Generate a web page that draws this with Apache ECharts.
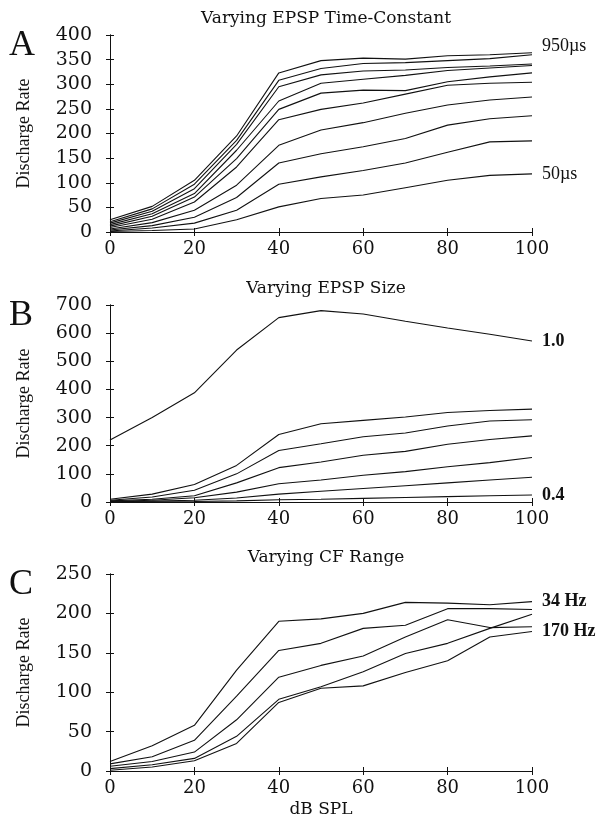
<!DOCTYPE html>
<html>
<head>
<meta charset="utf-8">
<title>Discharge Rate vs dB SPL</title>
<script src="https://cdn.jsdelivr.net/npm/echarts@6/dist/echarts.min.js"></script>
<style>
  html, body { margin: 0; padding: 0; background: #fff; }
  #chart { width: 607px; height: 820px; }
</style>
</head>
<body>
<div id="chart"></div>
<script>
// sound level (dB SPL), shared by every panel
var dB = [0, 10, 20, 30, 40, 50, 60, 70, 80, 90, 100];

// A: varying EPSP time-constant, 950us (top) .. 50us (bottom)
var tauLines = [
  [25, 52, 105, 195, 323, 348, 353, 351, 358, 360, 364],
  [21, 47, 97, 186, 308, 332, 342, 344, 348, 352, 360],
  [18, 42, 88, 178, 295, 319, 327, 329, 334, 337, 341],
  [15, 37, 78, 166, 266, 302, 310, 318, 328, 333, 338],
  [12, 32, 71, 149, 249, 282, 288, 287, 305, 315, 323],
  [9, 26, 61, 132, 228, 249, 262, 280, 298, 302, 304],
  [6, 19, 44, 95, 176, 207, 222, 241, 258, 268, 274],
  [4, 13, 30, 70, 140, 159, 173, 190, 217, 230, 236],
  [2, 8, 18, 44, 97, 112, 125, 140, 162, 183, 185],
  [1, 3, 6, 25, 51, 68, 75, 90, 105, 115, 118]
];
var tauEnds = ['950\u00b5s', '50\u00b5s'];

// B: varying EPSP size, 1.0 (top) .. 0.4 (bottom)
var sizeLines = [
  [220, 300, 388, 540, 655, 680, 668, 642, 618, 596, 572],
  [10, 28, 62, 130, 240, 278, 290, 302, 318, 325, 330],
  [6, 18, 42, 100, 183, 207, 232, 245, 270, 288, 292],
  [4, 10, 22, 68, 122, 142, 166, 180, 205, 222, 235],
  [2, 6, 15, 35, 65, 78, 95, 108, 125, 140, 158],
  [1, 3, 6, 14, 28, 38, 48, 58, 68, 78, 88],
  [0, 1, 2, 4, 8, 10, 13, 16, 19, 22, 25]
];
var sizeEnds = ['1.0', '0.4'];

// C: varying CF range, 34 Hz .. 170 Hz
var cfLines = [
  [12, 32, 58, 128, 190, 193, 200, 214, 213, 211, 215],
  [9, 18, 39, 95, 153, 162, 181, 185, 206, 206, 205],
  [6, 12, 24, 65, 119, 134, 146, 170, 192, 182, 183],
  [3, 8, 16, 44, 91, 107, 126, 149, 162, 181, 199],
  [1, 5, 13, 35, 87, 105, 108, 125, 140, 170, 177]
];
var cfEnds = ['34 Hz', '170 Hz'];

var titles = ['Varying EPSP Time-Constant', 'Varying EPSP Size', 'Varying CF Range'];
var letters = ['A', 'B', 'C'];
var yMax = [400, 700, 250];
var yStep = [50, 100, 50];

var serif = 'DejaVu Serif';
var ink = '#111';
var tops = [35, 305, 574];
var plotH = 197;

var option = {
  backgroundColor: '#fff',
  animation: false,
  title: [],
  grid: [],
  xAxis: [],
  yAxis: [],
  series: [],
  graphic: []
};

function addPanel(p, lines, ends, endIdx) {
  option.grid.push({ left: 110, right: 75, top: tops[p], height: plotH });
  option.title.push({
    text: titles[p], left: 321, textAlign: 'center', top: tops[p] - 30,
    textStyle: { fontFamily: serif, fontWeight: 'normal', fontSize: 17, color: ink }
  });
  option.graphic.push({
    type: 'text', left: 9, top: tops[p] - 7,
    style: { text: letters[p], font: '36px "Liberation Serif"', fill: ink }
  });
  var xb = {
    type: 'value', gridIndex: p, min: 0, max: 100, interval: 20, position: 'bottom',
    axisLine: { lineStyle: { color: ink, width: 1 } },
    axisTick: { inside: true, length: 4, lineStyle: { color: ink } },
    axisLabel: { color: ink, fontFamily: serif, fontSize: 18, margin: 8 },
    splitLine: { show: false }
  };
  if (p === 2) {
    xb.name = 'dB SPL';
    xb.nameLocation = 'middle';
    xb.nameGap = 30;
    xb.nameTextStyle = { color: ink, fontFamily: serif, fontSize: 17 };
  }
  option.xAxis.push(xb);
  option.xAxis.push({
    type: 'value', gridIndex: p, min: 0, max: 100, interval: 20, position: 'top',
    axisLine: { lineStyle: { color: ink, width: 1 } },
    axisTick: { inside: true, length: 4, lineStyle: { color: ink } },
    axisLabel: { show: false }, splitLine: { show: false }
  });
  option.yAxis.push({
    type: 'value', gridIndex: p, min: 0, max: yMax[p], interval: yStep[p], position: 'left',
    name: 'Discharge Rate', nameLocation: 'middle', nameGap: 77, nameRotate: 90,
    nameTextStyle: { color: ink, fontFamily: 'Liberation Serif', fontSize: 18 },
    axisLine: { show: true, lineStyle: { color: ink, width: 1 } },
    axisTick: { show: true, inside: true, length: 4, lineStyle: { color: ink } },
    axisLabel: { color: ink, fontFamily: serif, fontSize: 19, margin: 18 },
    splitLine: { show: false }
  });
  option.yAxis.push({
    type: 'value', gridIndex: p, min: 0, max: yMax[p], interval: yStep[p], position: 'right',
    axisLine: { show: true, lineStyle: { color: ink, width: 1 } },
    axisTick: { show: true, inside: true, length: 4, lineStyle: { color: ink } },
    axisLabel: { show: false }, splitLine: { show: false }
  });
  var bold = p > 0;
  lines.forEach(function (arr, i) {
    var s = {
      type: 'line', xAxisIndex: p * 2, yAxisIndex: p * 2, symbol: 'none',
      data: dB.map(function (d, k) { return [d, arr[k]]; }),
      lineStyle: { color: ink, width: 1.1 }
    };
    var which = i === 0 ? 0 : (i === endIdx ? 1 : -1);
    if (which >= 0) {
      s.endLabel = {
        show: true, formatter: ends[which], distance: 10,
        color: ink, fontFamily: 'Liberation Serif', fontSize: 18,
        fontWeight: bold ? 'bold' : 'normal',
        offset: [0, (p === 0 && which === 0) ? -6 : 0]
      };
    }
    option.series.push(s);
  });
}

addPanel(0, tauLines, tauEnds, tauLines.length - 1);
addPanel(1, sizeLines, sizeEnds, sizeLines.length - 1);
addPanel(2, cfLines, cfEnds, cfLines.length - 1);

var chart = echarts.init(document.getElementById('chart'));
chart.setOption(option);
</script>
</body>
</html>
